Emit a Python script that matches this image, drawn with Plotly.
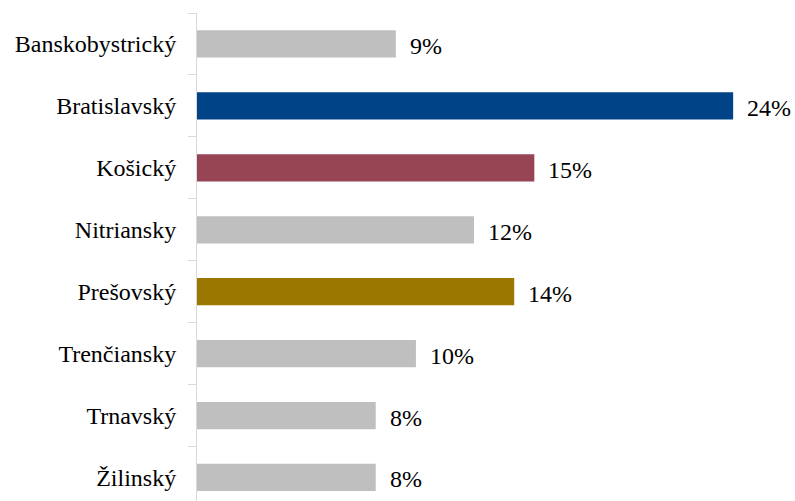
import plotly.graph_objects as go

categories = ["Banskobystrický", "Bratislavský", "Košický", "Nitriansky",
              "Prešovský", "Trenčiansky", "Trnavský", "Žilinský"]
values = [8.9, 24.0, 15.1, 12.4, 14.2, 9.8, 8.0, 8.0]
labels = ["9%", "24%", "15%", "12%", "14%", "10%", "8%", "8%"]
colors = ["#bfbfbf", "#004487", "#974555", "#bfbfbf",
          "#9b7700", "#bfbfbf", "#bfbfbf", "#bfbfbf"]

FONT = "Liberation Serif"

fig = go.Figure(go.Bar(
    x=values, y=categories, orientation="h",
    marker=dict(color=colors, line=dict(width=0)),
    width=0.44, hoverinfo="skip",
))

for c, v, t in zip(categories, values, labels):
    fig.add_annotation(x=v, y=c, text=t, showarrow=False, xanchor="left",
                       xshift=12, yshift=-2, font=dict(family=FONT, size=24, color="#000000"))

fig.update_layout(
    width=795, height=501,
    margin=dict(l=197, r=6, t=13, b=0),
    plot_bgcolor="white", paper_bgcolor="white",
    showlegend=False,
    font=dict(family=FONT, size=24, color="#000000"),
    xaxis=dict(range=[0, 26.5], visible=False, fixedrange=True),
    yaxis=dict(range=[7.38, -0.5], showline=True, linecolor="#d9d9d9", linewidth=1,
               ticks="outside", tickson="boundaries", ticklen=8, tickcolor="#d9d9d9",
               ticklabelstandoff=15, showgrid=False, zeroline=False, fixedrange=True,
               tickfont=dict(family=FONT, size=24, color="#000000")),
)

fig.write_html("out.html", config={"displayModeBar": False},
               post_script="document.body.style.margin='0';document.body.style.overflow='hidden';")
